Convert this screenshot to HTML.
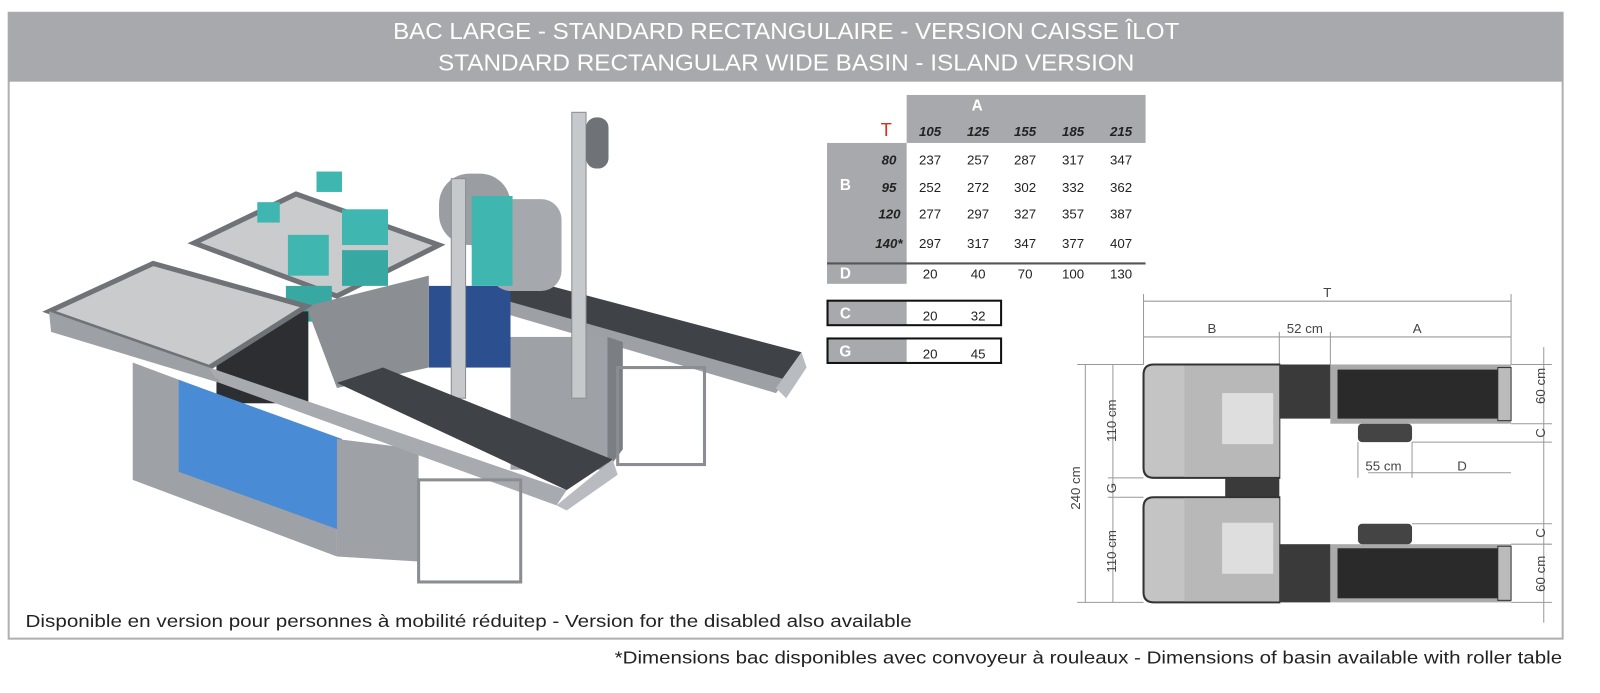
<!DOCTYPE html>
<html><head><meta charset="utf-8"><style>
html,body{margin:0;padding:0;background:#fff;width:1600px;height:693px;overflow:hidden}
svg{display:block}
text{font-family:"Liberation Sans",Arial,sans-serif}
</style></head><body>
<svg width="1600" height="693" viewBox="0 0 1600 693" xmlns="http://www.w3.org/2000/svg">
<g transform="scale(1.021)">
<!-- frame -->
<rect x="8.5" y="12.5" width="1522" height="613" fill="#fff" stroke="#b0b0b0" stroke-width="2"/>
<rect x="8" y="12" width="1523" height="68" fill="#a7a9ac"/>
<text x="770" y="38" font-size="23" fill="#fff" text-anchor="middle" textLength="770" lengthAdjust="spacingAndGlyphs">BAC LARGE - STANDARD RECTANGULAIRE - VERSION CAISSE ÎLOT</text>
<text x="770" y="69" font-size="23" fill="#fff" text-anchor="middle" textLength="682" lengthAdjust="spacingAndGlyphs">STANDARD RECTANGULAR WIDE BASIN - ISLAND VERSION</text>

<!-- 3D render approximation -->
<g>
 <polygon points="480,290 520,275 785,345 760,380" fill="#3f4247"/>
 <polygon points="470,300 480,290 770,372 760,385" fill="#9da1a6"/>
 <polygon points="760,380 785,345 790,360 770,390" fill="#b8bcc0"/>
 <rect x="500" y="330" width="95" height="130" fill="#9ea2a7"/>
 <polygon points="595,330 610,335 610,440 595,460" fill="#7b7f84"/>
 <rect x="420" y="280" width="80" height="80" fill="#2c4f8f"/>
 <polygon points="190,238 290,190 430,240 330,290" fill="#c9cbcd" stroke="#6f7378" stroke-width="5"/>
 <rect x="430" y="170" width="70" height="70" rx="30" fill="#9a9ea3"/>
 <rect x="560" y="110" width="14" height="280" fill="#c6c9cc" stroke="#8a8e92"/>
 <rect x="574" y="115" width="22" height="50" rx="10" fill="#6f7378"/>
 <rect x="480" y="195" width="70" height="90" rx="20" fill="#a5a9ad"/>
 <rect x="462" y="192" width="40" height="50" fill="#3fb6b0"/>
 <rect x="462" y="240" width="40" height="40" fill="#3fb6b0"/>
 <rect x="335" y="205" width="45" height="35" fill="#3fb6b0"/>
 <rect x="335" y="245" width="45" height="35" fill="#38a8a2"/>
 <rect x="282" y="230" width="40" height="40" fill="#3fb6b0"/>
 <rect x="280" y="280" width="45" height="35" fill="#38a8a2"/>
 <rect x="250" y="295" width="40" height="35" fill="#3fb6b0"/>
 <rect x="310" y="168" width="25" height="20" fill="#3fb6b0"/>
 <rect x="252" y="198" width="22" height="20" fill="#3fb6b0"/>
 <polygon points="300,300 420,270 420,360 330,380" fill="#8b8f94"/>
 <rect x="212" y="305" width="90" height="90" fill="#2c2e31"/>
 <rect x="442" y="175" width="14" height="215" fill="#c6c9cc" stroke="#8a8e92"/>
 <polygon points="48,305 150,258 300,300 205,360" fill="#c9cbcd" stroke="#6f7378" stroke-width="5"/>
 <polygon points="48,305 205,360 215,375 50,325" fill="#9da1a6"/>
 <polygon points="130,355 330,430 330,545 130,470" fill="#9ea2a7"/>
 <polygon points="175,372 335,430 335,520 175,462" fill="#4a8bd6"/>
 <polygon points="330,430 410,440 410,550 330,545" fill="#9ea2a7"/>
 <polygon points="330,375 375,360 600,450 555,480" fill="#3f4247"/>
 <polygon points="205,360 215,375 545,495 555,480" fill="#a7abaf"/>
 <polygon points="545,495 600,450 605,465 555,500" fill="#b8bcc0"/>
 <rect x="410" y="470" width="100" height="100" fill="none" stroke="#8a8e92" stroke-width="3"/>
 <rect x="605" y="360" width="85" height="95" fill="none" stroke="#8a8e92" stroke-width="3"/>
</g>

<text x="25" y="614" font-size="17" fill="#222" textLength="868" lengthAdjust="spacingAndGlyphs">Disponible en version pour personnes à mobilité réduitep - Version for the disabled also available</text>
<text x="1530" y="650" font-size="17" fill="#222" text-anchor="end" textLength="928" lengthAdjust="spacingAndGlyphs">*Dimensions bac disponibles avec convoyeur à rouleaux - Dimensions of basin available with roller table</text>

<!-- table -->
<g font-size="13" fill="#222">
 <rect x="888" y="93" width="234" height="47" fill="#a7a9ac"/>
 <rect x="810" y="140" width="78" height="138" fill="#a7a9ac"/>
 <line x1="810" y1="258" x2="1122" y2="258" stroke="#555" stroke-width="2"/>
 <text x="957" y="108" fill="#fff" font-weight="bold" font-size="15" text-anchor="middle">A</text>
 <text x="868" y="133" fill="#d6301c" font-size="18" text-anchor="middle">T</text>
 <g font-weight="bold" font-style="italic" text-anchor="middle">
  <text x="911" y="133">105</text><text x="958" y="133">125</text><text x="1004" y="133">155</text><text x="1051" y="133">185</text><text x="1098" y="133">215</text>
 </g>
 <text x="828" y="186" fill="#fff" font-weight="bold" font-size="15" text-anchor="middle">B</text>
 <g font-weight="bold" font-style="italic" text-anchor="end">
  <text x="878" y="161">80</text><text x="878" y="188">95</text><text x="882" y="214">120</text><text x="884" y="243">140*</text>
 </g>
 <g text-anchor="middle">
  <text x="911" y="161">237</text><text x="958" y="161">257</text><text x="1004" y="161">287</text><text x="1051" y="161">317</text><text x="1098" y="161">347</text>
  <text x="911" y="188">252</text><text x="958" y="188">272</text><text x="1004" y="188">302</text><text x="1051" y="188">332</text><text x="1098" y="188">362</text>
  <text x="911" y="214">277</text><text x="958" y="214">297</text><text x="1004" y="214">327</text><text x="1051" y="214">357</text><text x="1098" y="214">387</text>
  <text x="911" y="243">297</text><text x="958" y="243">317</text><text x="1004" y="243">347</text><text x="1051" y="243">377</text><text x="1098" y="243">407</text>
  <text x="911" y="273">20</text><text x="958" y="273">40</text><text x="1004" y="273">70</text><text x="1051" y="273">100</text><text x="1098" y="273">130</text>
 </g>
 <text x="828" y="273" fill="#fff" font-weight="bold" font-size="15" text-anchor="middle">D</text>
 <rect x="810" y="294" width="78" height="24" fill="#a7a9ac"/>
 <rect x="810.5" y="294.5" width="170" height="24" fill="none" stroke="#111" stroke-width="2"/>
 <text x="828" y="312" fill="#fff" font-weight="bold" font-size="15" text-anchor="middle">C</text>
 <text x="911" y="314" text-anchor="middle">20</text><text x="958" y="314" text-anchor="middle">32</text>
 <rect x="810" y="331" width="78" height="24" fill="#a7a9ac"/>
 <rect x="810.5" y="331.5" width="170" height="24" fill="none" stroke="#111" stroke-width="2"/>
 <text x="828" y="349" fill="#fff" font-weight="bold" font-size="15" text-anchor="middle">G</text>
 <text x="911" y="351" text-anchor="middle">20</text><text x="958" y="351" text-anchor="middle">45</text>
</g>

<!-- plan diagram -->
<g stroke="#999" stroke-width="1" fill="none">
 <line x1="1120" y1="295" x2="1480" y2="295"/>
 <line x1="1120" y1="330" x2="1480" y2="330"/>
 <line x1="1120" y1="288" x2="1120" y2="357"/>
 <line x1="1480" y1="288" x2="1480" y2="357"/>
 <line x1="1253" y1="325" x2="1253" y2="357"/>
 <line x1="1303" y1="325" x2="1303" y2="357"/>
 <line x1="1063" y1="357" x2="1063" y2="590"/>
 <line x1="1090" y1="357" x2="1090" y2="590"/>
 <line x1="1055" y1="357" x2="1120" y2="357"/>
 <line x1="1055" y1="590" x2="1120" y2="590"/>
 <line x1="1085" y1="468" x2="1120" y2="468"/>
 <line x1="1085" y1="487" x2="1120" y2="487"/>
 <line x1="1512" y1="340" x2="1512" y2="610"/>
 <line x1="1480" y1="357" x2="1520" y2="357"/>
 <line x1="1480" y1="415" x2="1520" y2="415"/>
 <line x1="1383" y1="433" x2="1520" y2="433"/>
 <line x1="1383" y1="513" x2="1520" y2="513"/>
 <line x1="1480" y1="533" x2="1520" y2="533"/>
 <line x1="1480" y1="590" x2="1520" y2="590"/>
 <line x1="1340" y1="463" x2="1480" y2="463"/>
 <line x1="1383" y1="433" x2="1383" y2="468"/>
 <line x1="1330" y1="433" x2="1330" y2="468"/>
</g>
<g fill="#444" font-size="13" text-anchor="middle">
 <text x="1300" y="291">T</text>
 <text x="1187" y="326">B</text>
 <text x="1278" y="326">52 cm</text>
 <text x="1388" y="326">A</text>
 <text x="1355" y="461">55 cm</text>
 <text x="1432" y="461">D</text>
 <text transform="translate(1058,478) rotate(-90)">240 cm</text>
 <text transform="translate(1093,412) rotate(-90)">110 cm</text>
 <text transform="translate(1093,478) rotate(-90)">G</text>
 <text transform="translate(1093,540) rotate(-90)">110 cm</text>
 <text transform="translate(1513,378) rotate(-90)">60 cm</text>
 <text transform="translate(1513,424) rotate(-90)">C</text>
 <text transform="translate(1513,522) rotate(-90)">C</text>
 <text transform="translate(1513,562) rotate(-90)">60 cm</text>
</g>
<g>
 <path d="M1130,357 H1253 V468 H1130 Q1120,468 1120,458 V367 Q1120,357 1130,357Z" fill="#c4c4c4" stroke="#333" stroke-width="2"/>
 <rect x="1160" y="358" width="93" height="109" fill="#b8b8b8"/>
 <rect x="1197" y="385" width="50" height="50" fill="#dedede"/>
 <rect x="1253" y="357" width="50" height="53" fill="#3a3a3a"/>
 <rect x="1303" y="357" width="177" height="58" fill="#aaa"/>
 <rect x="1310" y="362" width="157" height="48" fill="#2a2a2a"/>
 <rect x="1467" y="360" width="13" height="52" fill="#bbb" stroke="#333"/>
 <rect x="1330" y="415" width="53" height="18" rx="4" fill="#444"/>
 <rect x="1200" y="468" width="53" height="19" fill="#3a3a3a"/>
 <path d="M1130,487 H1253 V590 H1130 Q1120,590 1120,580 V497 Q1120,487 1130,487Z" fill="#c4c4c4" stroke="#333" stroke-width="2"/>
 <rect x="1160" y="488" width="93" height="101" fill="#b8b8b8"/>
 <rect x="1197" y="512" width="50" height="50" fill="#dedede"/>
 <rect x="1253" y="533" width="50" height="57" fill="#3a3a3a"/>
 <rect x="1303" y="533" width="177" height="57" fill="#aaa"/>
 <rect x="1310" y="537" width="157" height="49" fill="#2a2a2a"/>
 <rect x="1467" y="535" width="13" height="53" fill="#bbb" stroke="#333"/>
 <rect x="1330" y="513" width="53" height="20" rx="4" fill="#444"/>
</g>
</g>
</svg>
</body></html>
